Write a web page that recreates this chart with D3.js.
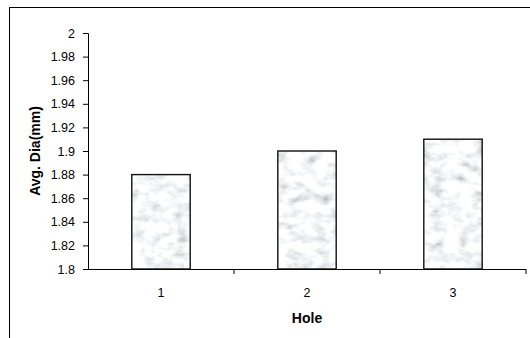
<!DOCTYPE html>
<html>
<head>
<meta charset="utf-8">
<script src="https://cdn.jsdelivr.net/npm/d3@7"></script>
<style>
  body { margin: 0; background: #fff; }
  text { font-family: "Liberation Sans", Arial, sans-serif; }
</style>
</head>
<body>
<svg id="chart" width="530" height="338"></svg>
<script>
// DATA
const holes = ["1", "2", "3"];
const avgDia = [1.88, 1.90, 1.91];
const yTicks = [1.8, 1.82, 1.84, 1.86, 1.88, 1.9, 1.92, 1.94, 1.96, 1.98, 2];

// CANVAS SETUP
const svg = d3.select("#chart");
const margin = { top: 33, right: 4, bottom: 69, left: 88 },
  width = 530 - margin.left - margin.right,
  height = 338 - margin.top - margin.bottom;

// outer frame (right/bottom edges fall outside the picture)
svg.append("rect")
  .attr("x", 9.5).attr("y", 7.5)
  .attr("width", 540).attr("height", 350)
  .attr("fill", "none").attr("stroke", "#000").attr("stroke-width", 1);

// marble-like texture for the bars
const defs = svg.append("defs");
const filter = defs.append("filter").attr("id", "marble")
  .attr("x", 0).attr("y", 0).attr("width", 1).attr("height", 1);
filter.append("feTurbulence")
  .attr("type", "fractalNoise")
  .attr("baseFrequency", "0.07 0.1")
  .attr("numOctaves", 5)
  .attr("seed", 3)
  .attr("result", "noise");
filter.append("feColorMatrix")
  .attr("in", "noise")
  .attr("type", "matrix")
  .attr("values", "1.1 1.1 0 0 -0.22  1.1 1.1 0 0 -0.21  1.1 1.1 0 0 -0.2  0 0 0 0 1")
  .attr("result", "gray");
filter.append("feComponentTransfer").attr("in", "gray").attr("result", "tone")
  .call((f) => {
    f.append("feFuncR").attr("type", "gamma").attr("amplitude", 1).attr("exponent", 0.5).attr("offset", 0);
    f.append("feFuncG").attr("type", "gamma").attr("amplitude", 1).attr("exponent", 0.5).attr("offset", 0);
    f.append("feFuncB").attr("type", "gamma").attr("amplitude", 1).attr("exponent", 0.5).attr("offset", 0.01);
  });
filter.append("feComposite")
  .attr("in", "tone").attr("in2", "SourceGraphic").attr("operator", "in");

const g = svg.append("g").attr("transform", `translate(${margin.left},${margin.top})`);

// SCALES
const xScale = d3.scaleBand().domain(holes).range([0, width]);
const yScale = d3.scaleLinear().domain([1.8, 2]).range([height, 0]);
const barW = xScale.bandwidth() / 2.5;

// BARS
const bars = g.selectAll("g.bar")
  .data(holes.map((h, i) => ({ hole: h, value: avgDia[i] })))
  .join("g").attr("class", "bar");

bars.append("rect")
  .attr("x", (d) => xScale(d.hole) + (xScale.bandwidth() - barW) / 2)
  .attr("y", (d) => yScale(d.value))
  .attr("width", barW)
  .attr("height", (d) => height - yScale(d.value))
  .attr("fill", "#ddd")
  .attr("filter", "url(#marble)");

bars.append("rect")
  .attr("x", (d) => xScale(d.hole) + (xScale.bandwidth() - barW) / 2)
  .attr("y", (d) => yScale(d.value))
  .attr("width", barW)
  .attr("height", (d) => height - yScale(d.value))
  .attr("fill", "none")
  .attr("stroke", "#111")
  .attr("stroke-width", 1.4);

// AXES
const gy = g.append("g")
  .call(d3.axisLeft(yScale).tickValues(yTicks).tickSize(5).tickPadding(8)
    .tickFormat((d) => d3.format("")(+d.toFixed(2))))
  .call((a) => a.select(".domain").attr("d", `M-5,0.5H0.5V${height}`));
gy.selectAll("text").attr("font-size", 12.5).attr("fill", "#000")
  .style("font-family", "Liberation Sans, Arial, sans-serif");

const gx = g.append("g").attr("transform", `translate(0,${height})`)
  .call(d3.axisBottom(xScale).tickSize(0).tickPadding(19.5))
  .call((a) => a.select(".domain").attr("d", `M0,0.5H${width}`));
gx.selectAll("text").attr("font-size", 12.5).attr("fill", "#000")
  .style("font-family", "Liberation Sans, Arial, sans-serif");

// category boundary ticks on x axis
gx.selectAll("line.sep")
  .data(holes)
  .join("line")
  .attr("class", "sep")
  .attr("x1", (d) => xScale(d) + xScale.bandwidth())
  .attr("x2", (d) => xScale(d) + xScale.bandwidth())
  .attr("y1", 0).attr("y2", 5)
  .attr("stroke", "#000");

// AXIS TITLES
svg.append("text")
  .attr("transform", `translate(40,${margin.top + height / 2}) rotate(-90)`)
  .attr("text-anchor", "middle")
  .attr("font-size", 14).attr("font-weight", "bold")
  .text("Avg. Dia(mm)");

svg.append("text")
  .attr("x", margin.left + width / 2)
  .attr("y", 323)
  .attr("text-anchor", "middle")
  .attr("font-size", 14).attr("font-weight", "bold")
  .text("Hole");
</script>
</body>
</html>
